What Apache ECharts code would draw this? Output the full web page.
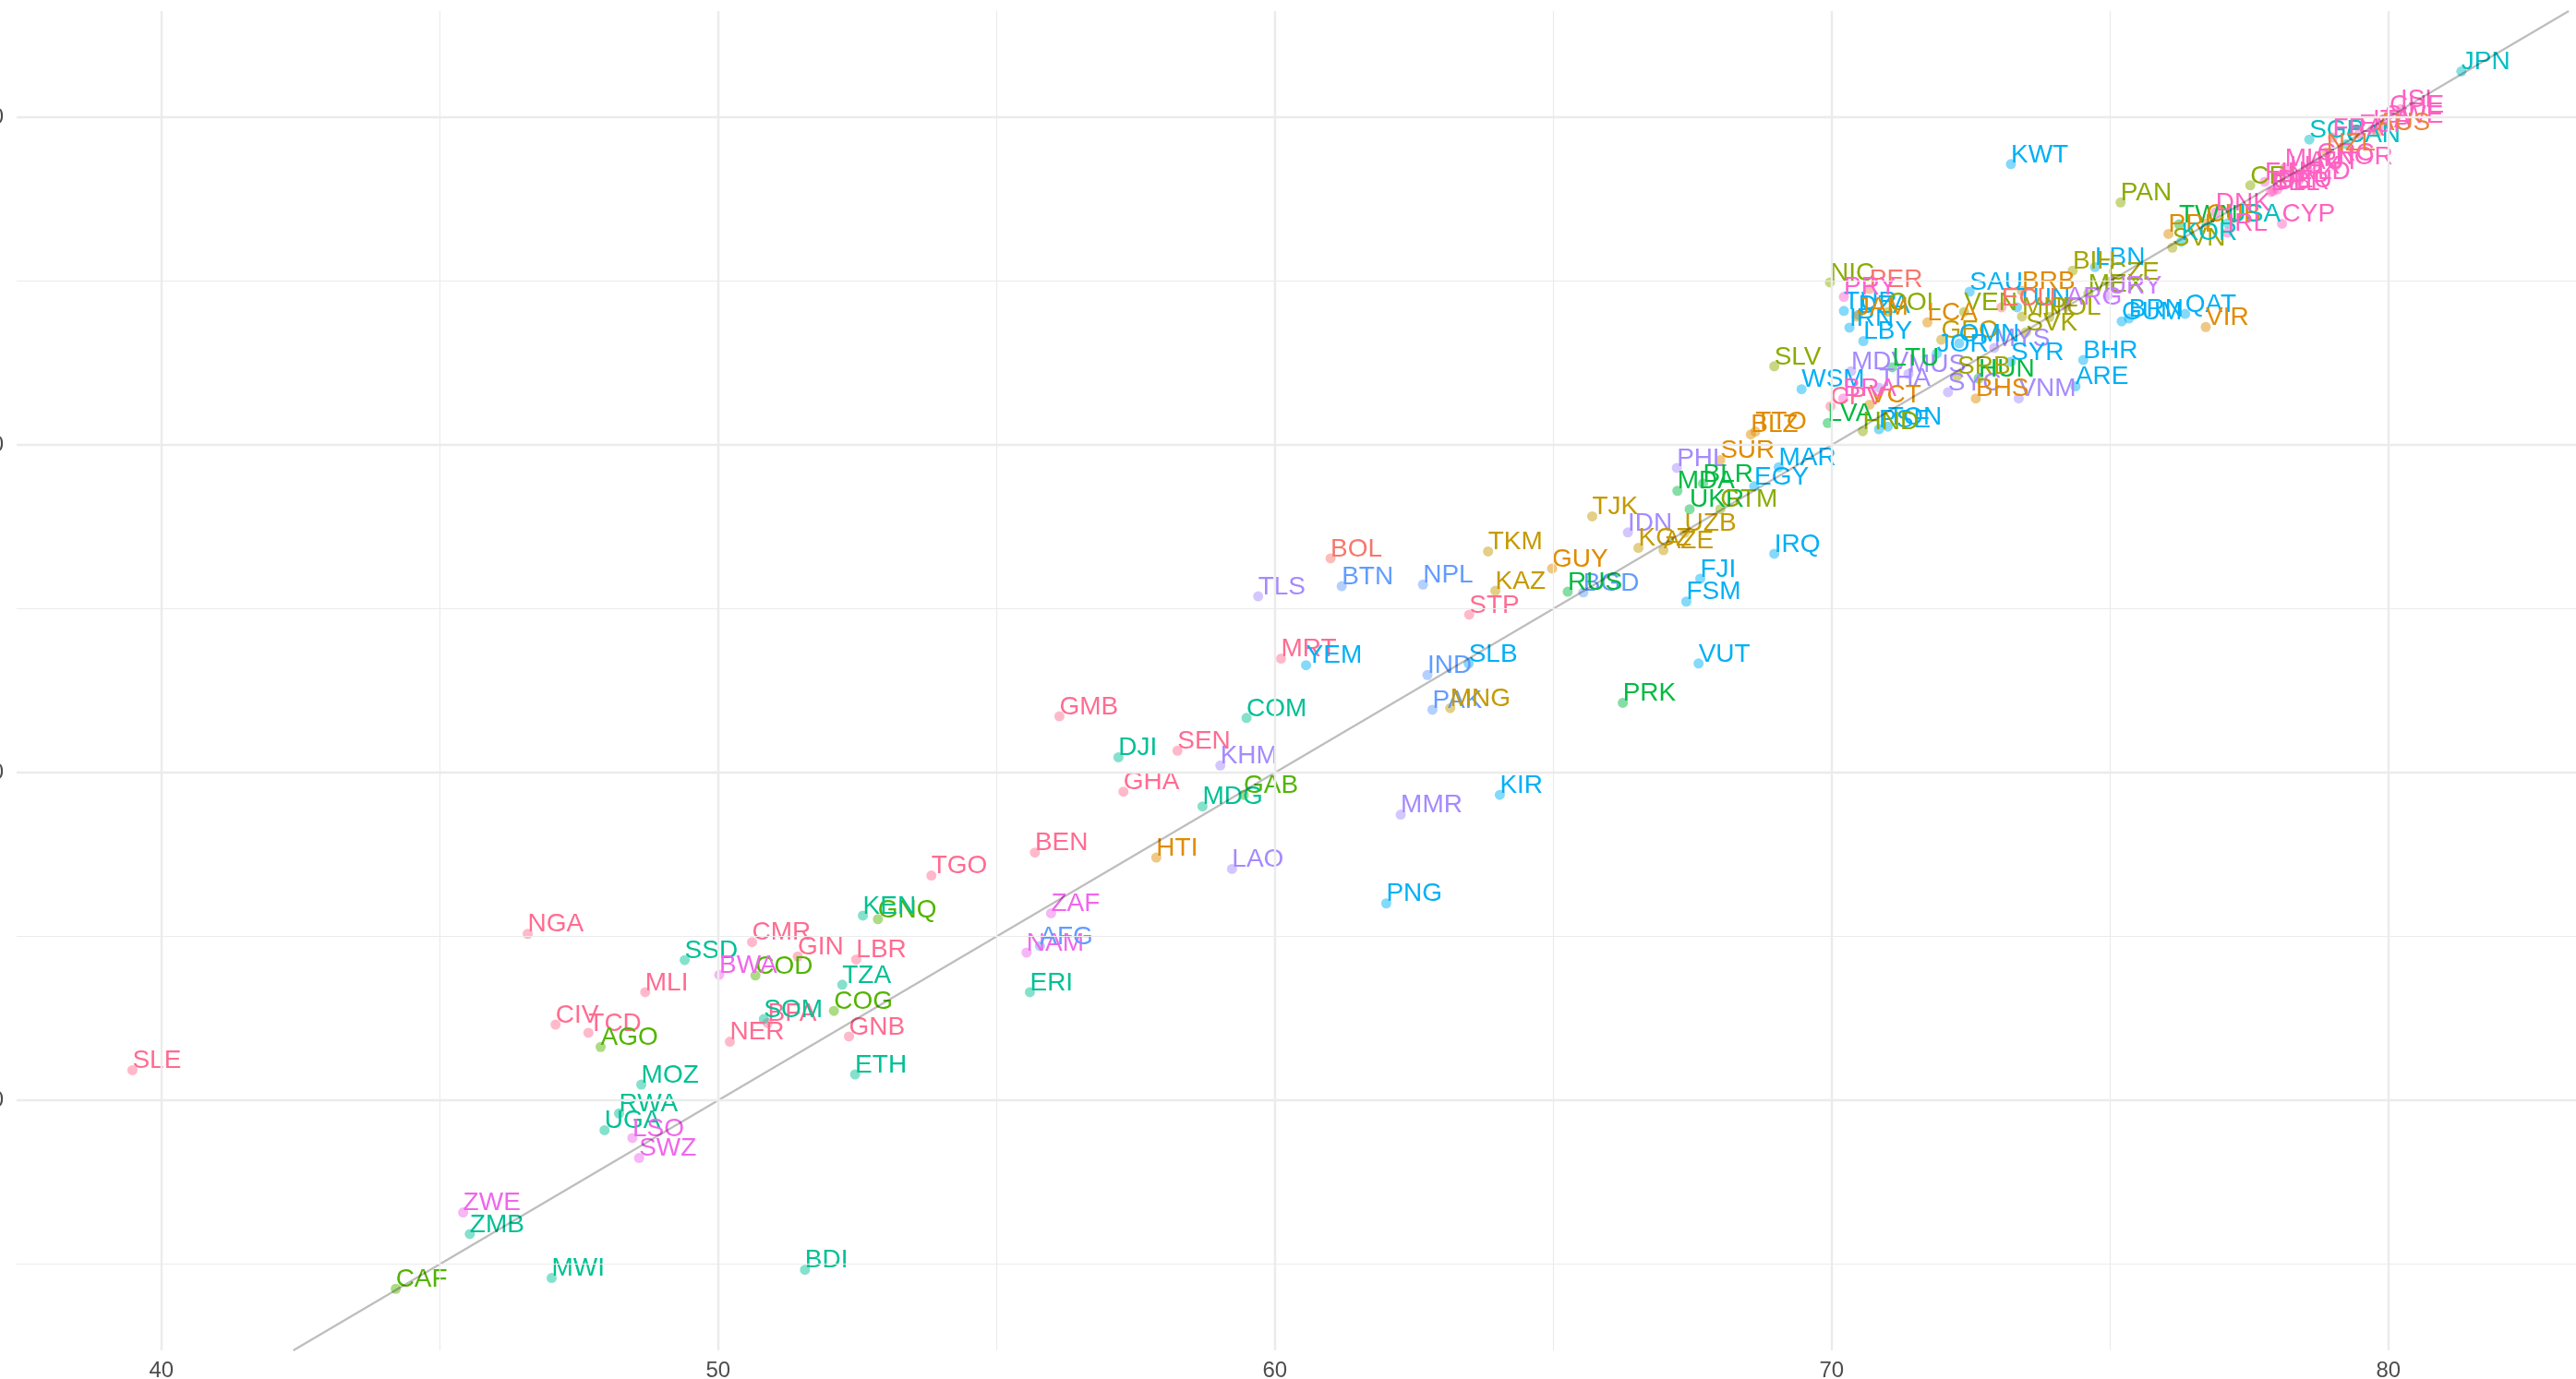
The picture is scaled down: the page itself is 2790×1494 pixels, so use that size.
<!DOCTYPE html>
<html>
<head>
<meta charset="utf-8">
<title>Life expectancy scatter</title>
<script src="https://cdn.jsdelivr.net/npm/echarts@6/dist/echarts.min.js"></script>
<style>
  html, body { margin: 0; padding: 0; background: #fff; }
  #chart { width: 2790px; height: 1494px; }
</style>
</head>
<body>
<div id="chart"></div>
<script>
// axis ticks and ranges
const xTicks = [40, 50, 60, 70, 80];
const yTicks = [50, 60, 70, 80];
const xMinor = [45, 55, 65, 75];
const yMinor = [45, 55, 65, 75];
const xRange = [37.4, 83.37];
const yRange = [42.37, 83.24];

// y = x reference line
const refLine = [[42.37, 42.37], [83.24, 83.24]];

// [code, x, y] per region
const westAfrica = [
  ['SLE', 39.48, 50.92], ['NGA', 46.58, 55.08], ['MLI', 48.69, 53.30], ['CIV', 47.08, 52.31],
  ['TCD', 47.67, 52.06], ['CMR', 50.61, 54.83], ['GIN', 51.43, 54.39], ['LBR', 52.48, 54.30],
  ['NER', 50.21, 51.79], ['BFA', 50.89, 52.36], ['GNB', 52.35, 51.95], ['TGO', 53.83, 56.86],
  ['BEN', 55.69, 57.56], ['GMB', 56.13, 61.72], ['GHA', 57.28, 59.42], ['SEN', 58.25, 60.67],
  ['MRT', 60.11, 63.48], ['STP', 63.49, 64.82], ['CPV', 69.98, 71.18]
];
const middleAfrica = [
  ['CAF', 44.21, 44.25], ['AGO', 47.89, 51.63], ['COD', 50.67, 53.81], ['COG', 52.08, 52.73],
  ['GNQ', 52.87, 55.53], ['GAB', 59.44, 59.32]
];
const eastAfrica = [
  ['ZMB', 45.54, 45.92], ['MWI', 47.01, 44.58], ['BDI', 51.56, 44.83], ['MOZ', 48.62, 50.48],
  ['RWA', 48.22, 49.60], ['UGA', 47.96, 49.09], ['SSD', 49.40, 54.28], ['SOM', 50.82, 52.48],
  ['TZA', 52.23, 53.53], ['ETH', 52.46, 50.79], ['KEN', 52.60, 55.64], ['ERI', 55.60, 53.30],
  ['DJI', 57.19, 60.47], ['MDG', 58.70, 58.97], ['COM', 59.49, 61.67]
];
const southernAfrica = [
  ['ZWE', 45.42, 46.58], ['SWZ', 48.58, 48.24], ['LSO', 48.46, 48.85], ['BWA', 50.02, 53.83],
  ['NAM', 55.54, 54.51], ['ZAF', 55.98, 55.71]
];
const southAsia = [
  ['AFG', 55.78, 54.71], ['BTN', 61.20, 65.69], ['NPL', 62.66, 65.74], ['IND', 62.74, 62.98],
  ['PAK', 62.83, 61.92], ['BGD', 65.54, 65.50]
];
const southEastAsia = [
  ['TLS', 59.70, 65.38], ['LAO', 59.23, 57.06], ['KHM', 59.02, 60.22], ['MMR', 62.26, 58.72],
  ['IDN', 66.34, 67.33], ['PHL', 67.22, 69.30], ['MDV', 70.35, 72.25], ['MUS', 71.38, 72.17],
  ['THA', 70.85, 71.75], ['MYS', 72.92, 72.96], ['SYC', 72.09, 71.61], ['VNM', 73.36, 71.42]
];
const centralAsia = [
  ['TKM', 63.83, 66.75], ['KAZ', 63.96, 65.55], ['TJK', 65.70, 67.82], ['KGZ', 66.53, 66.86],
  ['AZE', 66.98, 66.79], ['UZB', 67.36, 67.32], ['MNG', 63.15, 61.97], ['GEO', 71.97, 73.21]
];
const easternEurope = [
  ['RUS', 65.26, 65.52], ['MDA', 67.23, 68.60], ['BLR', 67.69, 68.82], ['UKR', 67.45, 68.04],
  ['LVA', 69.93, 70.67], ['LTU', 71.09, 72.37], ['HUN', 72.64, 72.03], ['PRK', 66.25, 62.13],
  ['TWN', 76.24, 76.73]
];
const menaPacific = [
  ['KWT', 73.22, 78.57], ['IRQ', 68.97, 66.68], ['FJI', 67.64, 65.92], ['FSM', 67.39, 65.22],
  ['VUT', 67.61, 63.33], ['KIR', 64.04, 59.32], ['PNG', 62.00, 56.01], ['SLB', 63.48, 63.33],
  ['YEM', 60.56, 63.28], ['SAU', 72.48, 74.68], ['TUR', 70.22, 74.09], ['DZA', 70.48, 73.97],
  ['IRN', 70.32, 73.58], ['LBY', 70.57, 73.17], ['TUN', 73.33, 74.20], ['LBN', 74.73, 75.43],
  ['JOR', 71.89, 72.79], ['OMN', 72.29, 73.10], ['SYR', 73.22, 72.54], ['BHR', 74.52, 72.59],
  ['ARE', 74.38, 71.79], ['QAT', 76.35, 74.00], ['GUM', 75.21, 73.77], ['BRN', 75.34, 73.86],
  ['MAR', 69.05, 69.32], ['EGY', 68.61, 68.74], ['WSM', 69.46, 71.70], ['PSE', 70.85, 70.48],
  ['TON', 71.01, 70.56]
];
const centralAmerica = [
  ['NIC', 69.97, 74.96], ['SLV', 68.97, 72.40], ['PAN', 75.19, 77.40], ['CRI', 77.52, 77.92],
  ['HND', 70.56, 70.42], ['GTM', 68.00, 68.04], ['MEX', 74.61, 74.62], ['COL', 71.01, 74.06],
  ['VEN', 72.38, 74.06]
];
const centralEurope = [
  ['SVK', 73.49, 73.44], ['SVN', 76.12, 76.02], ['CZE', 74.96, 74.99], ['POL', 73.91, 73.90],
  ['MNE', 73.42, 73.92], ['BIH', 74.33, 75.32], ['SRB', 72.26, 72.11]
];
const caribbean = [
  ['HTI', 57.87, 57.41], ['GUY', 64.98, 66.23], ['SUR', 68.00, 69.54], ['BLZ', 68.55, 70.32],
  ['TTO', 68.63, 70.41], ['LCA', 71.72, 73.74], ['JAM', 70.45, 73.92], ['BRB', 73.42, 74.70],
  ['BHS', 72.59, 71.42], ['VCT', 70.68, 71.23], ['CUB', 76.73, 76.76], ['PRI', 76.05, 76.44],
  ['VIR', 76.72, 73.60]
];
const andean = [
  ['BOL', 61.00, 66.54], ['PER', 70.68, 74.76], ['ECU', 73.05, 74.20]
];
const southernCone = [
  ['ARG', 74.21, 74.23], ['URY', 74.96, 74.56]
];
const eastSouthAmerica = [
  ['PRY', 70.22, 74.52], ['BRA', 70.21, 71.42]
];
const highIncome = [
  ['JPN', 81.31, 81.40], ['SGP', 78.58, 79.32], ['CAN', 79.24, 79.18], ['USA', 77.11, 76.76],
  ['KOR', 76.28, 76.20]
];
const europe = [
  ['CYP', 78.09, 76.75], ['DNK', 76.90, 77.10], ['IRL', 77.11, 76.48], ['BEL', 77.89, 77.72],
  ['FIN', 77.78, 78.03], ['GBR', 77.93, 77.75], ['DEU', 78.01, 77.80], ['MLT', 78.14, 78.45],
  ['NLD', 78.39, 78.06], ['AUT', 78.56, 78.37], ['GRC', 78.72, 78.62], ['NOR', 79.05, 78.51],
  ['FRA', 79.00, 79.38], ['ESP', 79.47, 79.49], ['ITA', 79.72, 79.63], ['SWE', 79.93, 79.77],
  ['CHE', 80.02, 80.08], ['ISL', 80.22, 80.25], ['LUX', 78.23, 78.23]
];
const oceania = [
  ['AUS', 79.80, 79.55], ['NZL', 78.89, 78.93]
];

const groups = [
  { data: westAfrica, color: '#FF6C91' },
  { data: middleAfrica, color: '#53B400' },
  { data: eastAfrica, color: '#00C094' },
  { data: southernAfrica, color: '#EF67EB' },
  { data: southAsia, color: '#619CFF' },
  { data: southEastAsia, color: '#A58AFF' },
  { data: centralAsia, color: '#C49A00' },
  { data: easternEurope, color: '#00BA42' },
  { data: menaPacific, color: '#00B0F6' },
  { data: centralAmerica, color: '#8AAB00' },
  { data: centralEurope, color: '#A3A500' },
  { data: caribbean, color: '#E08B00' },
  { data: andean, color: '#F8766D' },
  { data: southernCone, color: '#C77CFF' },
  { data: eastSouthAmerica, color: '#FD61D1' },
  { data: highIncome, color: '#00BFC4' },
  { data: europe, color: '#FF61C3' },
  { data: oceania, color: '#EC8239' }
];

const FONT = "'Liberation Sans', Arial, Helvetica, sans-serif";
const gridMajor = { color: '#EBEBEB', width: 2.4, type: 'solid' };
const gridMinor = { color: '#EBEBEB', width: 1.2, type: 'solid' };

const chart = echarts.init(document.getElementById('chart'), null, { renderer: 'canvas' });

const series = [];

// background grid lines
series.push({
  type: 'line',
  data: [],
  z: 0,
  silent: true,
  markLine: {
    silent: true,
    symbol: ['none', 'none'],
    label: { show: false },
    animation: false,
    data: [
      ...xMinor.map(v => ({ xAxis: v, lineStyle: gridMinor })),
      ...yMinor.map(v => ({ yAxis: v, lineStyle: gridMinor })),
      ...xTicks.map(v => ({ xAxis: v, lineStyle: gridMajor })),
      ...yTicks.map(v => ({ yAxis: v, lineStyle: gridMajor }))
    ]
  }
});

// points first, then all labels on top
groups.forEach(g => {
  series.push({
    type: 'scatter',
    z: 2,
    silent: true,
    symbolSize: 11,
    itemStyle: { color: g.color + '99' },
    data: g.data.map(d => [d[1], d[2], d[0]])
  });
});
groups.forEach(g => {
  series.push({
    type: 'scatter',
    z: 3,
    silent: true,
    symbolSize: 10,
    itemStyle: { color: 'rgba(0,0,0,0)' },
    label: {
      show: true,
      formatter: p => p.value[2],
      position: [5, 9],
      align: 'left',
      verticalAlign: 'bottom',
      color: g.color,
      opacity: 1,
      textBorderWidth: 0,
      textBorderColor: 'transparent',
      fontSize: 28,
      lineHeight: 28,
      fontFamily: FONT
    },
    data: g.data.map(d => [d[1], d[2], d[0]])
  });
});

series.push({
  type: 'line',
  z: 4,
  silent: true,
  symbol: 'none',
  lineStyle: { color: 'rgba(0,0,0,0.26)', width: 2.2 },
  data: refLine
});

chart.setOption({
  animation: false,
  backgroundColor: '#ffffff',
  grid: { left: 18, right: 0, top: 12, bottom: 31, containLabel: false, outerBoundsMode: 'none' },
  xAxis: {
    type: 'value',
    min: xRange[0],
    max: xRange[1],
    axisLine: { show: false },
    axisTick: { show: false },
    splitLine: { show: false },
    axisLabel: {
      customValues: xTicks,
      color: '#4D4D4D',
      fontSize: 24,
      fontFamily: FONT,
      margin: 10
    }
  },
  yAxis: {
    type: 'value',
    min: yRange[0],
    max: yRange[1],
    axisLine: { show: false },
    axisTick: { show: false },
    splitLine: { show: false },
    axisLabel: {
      customValues: yTicks,
      color: '#4D4D4D',
      fontSize: 24,
      fontFamily: FONT,
      margin: 14
    }
  },
  series: series
});
</script>
</body>
</html>
